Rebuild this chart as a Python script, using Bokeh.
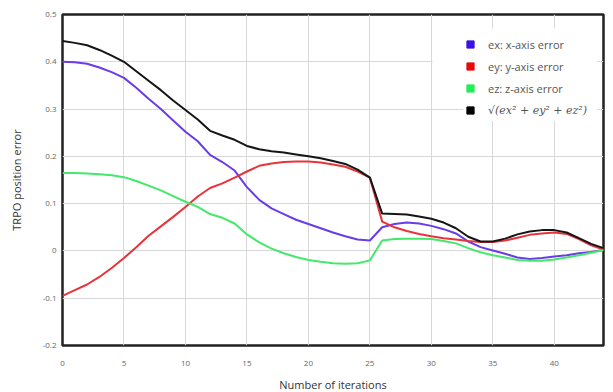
from bokeh.plotting import figure
from bokeh.models import FixedTicker, CustomJSTickFormatter, Legend, LegendItem, Range1d, BoxAnnotation
from bokeh.core.properties import value
from bokeh.embed import file_html
from bokeh.resources import INLINE

iterations = list(range(45))
ex = [0.400, 0.399, 0.396, 0.388, 0.378, 0.366, 0.345, 0.322, 0.300, 0.276,
      0.252, 0.232, 0.203, 0.188, 0.170, 0.135, 0.108, 0.090, 0.078, 0.066,
      0.057, 0.048, 0.039, 0.031, 0.024, 0.022, 0.050, 0.057, 0.060, 0.058,
      0.053, 0.046, 0.037, 0.020, 0.008, 0.001, -0.006, -0.014, -0.017, -0.015,
      -0.012, -0.009, -0.005, -0.002, 0.002]
ey = [-0.095, -0.083, -0.071, -0.055, -0.036, -0.015, 0.008, 0.032, 0.052, 0.072,
      0.093, 0.115, 0.133, 0.143, 0.155, 0.168, 0.180, 0.185, 0.188, 0.189,
      0.189, 0.187, 0.183, 0.178, 0.168, 0.155, 0.062, 0.050, 0.042, 0.036,
      0.031, 0.027, 0.024, 0.021, 0.019, 0.019, 0.022, 0.028, 0.034, 0.037,
      0.039, 0.036, 0.025, 0.012, 0.003]
ez = [0.165, 0.165, 0.164, 0.162, 0.160, 0.156, 0.148, 0.138, 0.128, 0.116,
      0.104, 0.093, 0.078, 0.070, 0.058, 0.035, 0.018, 0.005, -0.005, -0.013,
      -0.019, -0.023, -0.026, -0.027, -0.026, -0.020, 0.022, 0.025, 0.026, 0.026,
      0.025, 0.021, 0.016, 0.006, -0.003, -0.009, -0.014, -0.019, -0.021, -0.021,
      -0.018, -0.014, -0.009, -0.004, 0.002]
norm = [0.444, 0.440, 0.435, 0.425, 0.413, 0.400, 0.380, 0.360, 0.340, 0.318,
        0.298, 0.278, 0.254, 0.244, 0.235, 0.222, 0.215, 0.211, 0.208, 0.204,
        0.200, 0.196, 0.190, 0.184, 0.172, 0.155, 0.079, 0.078, 0.077, 0.073,
        0.068, 0.060, 0.048, 0.030, 0.020, 0.020, 0.026, 0.035, 0.041, 0.044,
        0.044, 0.039, 0.027, 0.015, 0.006]

x_ticks = [0, 5, 10, 15, 20, 25, 30, 35, 40]
y_ticks = [-0.2, -0.1, 0, 0.1, 0.2, 0.3, 0.4, 0.5]
labels = ["ex: x-axis error", "ey: y-axis error", "ez: z-axis error", "\u221a(ex\u00b2 + ey\u00b2 + ez\u00b2)"]
line_colors = ["#6a3ce8", "#e8333a", "#44e86a", "#151515"]
legend_colors = ["#3a10e8", "#e80a0a", "#22ee55", "#000000"]

p = figure(width=613, height=392, output_backend="svg", toolbar_location=None,
           frame_width=541, frame_height=331,
           x_range=Range1d(0, 44), y_range=Range1d(-0.2, 0.5))
p.min_border_left = 62
p.min_border_right = 10
p.min_border_top = 14
p.min_border_bottom = 47

# white patch behind the legend (hides grid lines there, as in the original)
p.add_layout(BoxAnnotation(left=30.1, right=43.5, bottom=0.33, top=0.47, level="underlay",
                           fill_color="white", fill_alpha=1.0, line_color=None))
p.add_layout(BoxAnnotation(left=32.6, right=43.5, bottom=0.275, top=0.33, level="underlay",
                           fill_color="white", fill_alpha=1.0, line_color=None))

for ys, c in zip([ex, ey, ez, norm], line_colors):
    p.line(iterations, ys, line_color=c, line_width=2)

items = []
for lab, c in zip(labels, legend_colors):
    r = p.scatter(x=[-100], y=[-100], marker="square", size=8, fill_color=c, line_color=c)
    items.append(LegendItem(label=value(lab), renderers=[r]))

common = dict(background_fill_alpha=0.0, border_line_alpha=0.0,
              label_text_color="#555555", glyph_width=18, glyph_height=18,
              label_height=18, spacing=4, padding=2, margin=0, label_standoff=9)
legend_a = Legend(items=items[:3], location=(397, 246), label_text_font_size="11px",
                  label_text_font="Open Sans", **common)
legend_b = Legend(items=items[3:], location=(397, 224), label_text_font_size="11px",
                  label_text_font="DejaVu Serif", label_text_font_style="italic", **common)
p.add_layout(legend_a)
p.add_layout(legend_b)

p.outline_line_color = "#222222"
p.outline_line_width = 2.5
p.outline_line_alpha = 1.0

p.xaxis.ticker = FixedTicker(ticks=x_ticks)
p.yaxis.ticker = FixedTicker(ticks=y_ticks)
p.yaxis.formatter = CustomJSTickFormatter(code="return String(Math.round(tick*10)/10);")
for ax in [p.xaxis[0], p.yaxis[0]]:
    ax.axis_line_color = None
    ax.major_tick_line_color = None
    ax.minor_tick_line_color = None
    ax.major_tick_out = 0
    ax.major_tick_in = 0
    ax.minor_tick_out = 0
    ax.major_label_text_font_size = "8px"
    ax.major_label_text_color = "#666666"
    ax.major_label_text_font = "Open Sans"
    ax.axis_label_text_font = "Open Sans"
    ax.axis_label_text_font_style = "normal"
    ax.axis_label_text_font_size = "11px"
    ax.axis_label_text_color = "#333333"

p.xaxis.axis_label = "Number of iterations"
p.yaxis.axis_label = "TRPO position error"
p.xaxis.major_label_standoff = 15
p.xaxis.axis_label_standoff = 8
p.yaxis.major_label_standoff = 6
p.yaxis.axis_label_standoff = 16

p.xgrid.grid_line_color = "#d8d8d8"
p.ygrid.grid_line_color = "#d8d8d8"
p.xgrid.grid_line_width = 1
p.ygrid.grid_line_width = 1

open("out.html", "w").write(file_html(p, INLINE))
